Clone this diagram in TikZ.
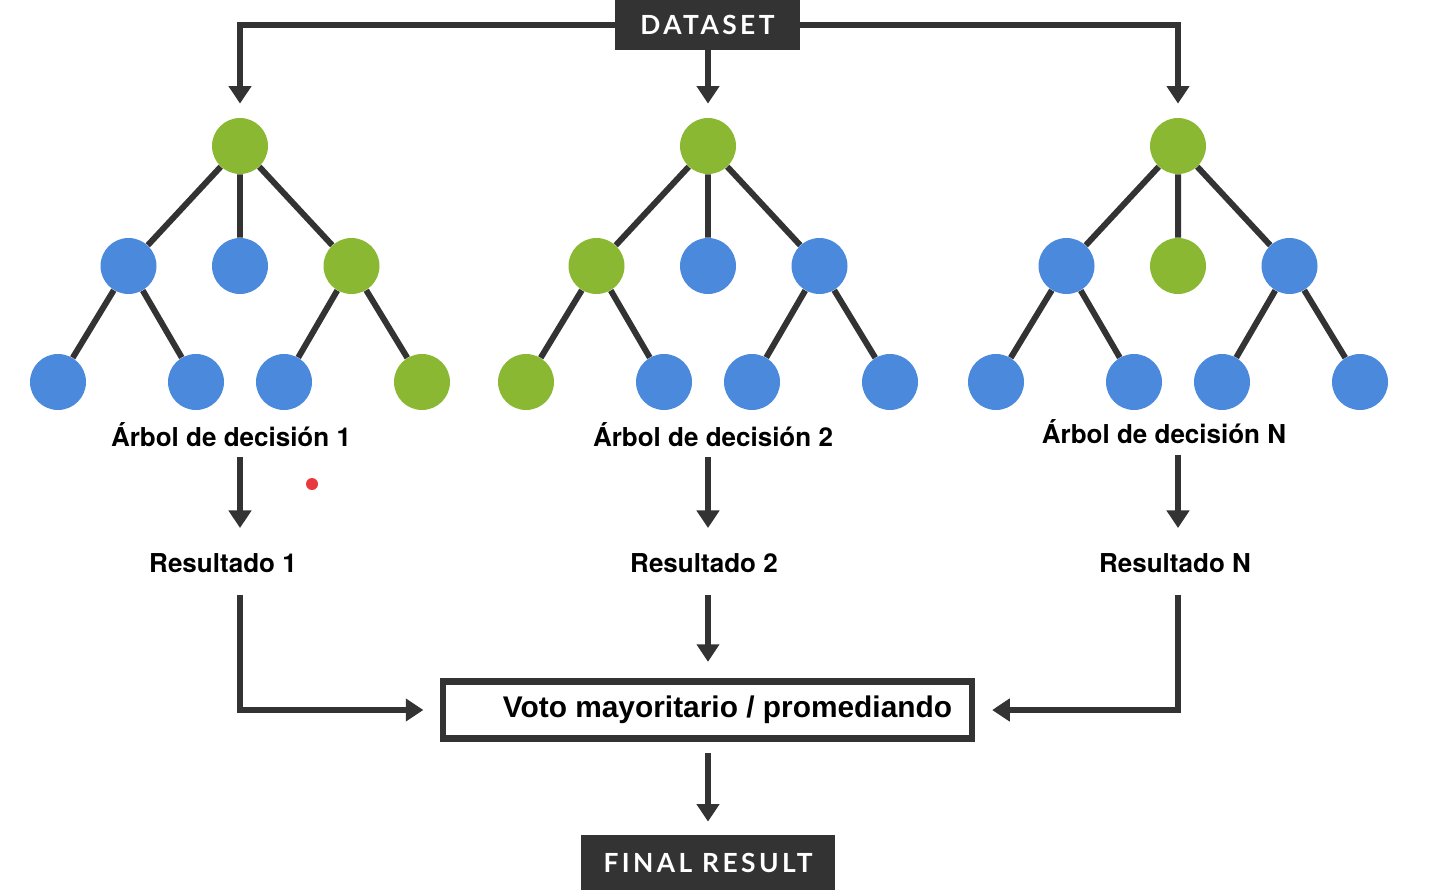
\documentclass[tikz,border=0pt]{standalone}
\usepackage{fontspec}
\setmainfont{TeX Gyre Heros}
\newfontfamily\cajafont[LetterSpace=13]{Lato}
\newfontfamily\votofont{Liberation Sans}
\usepackage{tikz}
\usetikzlibrary{arrows.meta,calc}
\definecolor{verde}{HTML}{8AB833}
\definecolor{azul}{HTML}{4A89DC}
\definecolor{oscuro}{HTML}{333333}
\definecolor{punto}{HTML}{E8393F}

\begin{document}
\begin{tikzpicture}[
  nodo/.style={circle, inner sep=0pt, minimum size=1.12cm},
  rama/.style={oscuro, line width=3.4pt},
  flecha/.style={-{Triangle[length=10pt, width=12.5pt]}, oscuro, line width=3.4pt},
  oscura/.style={fill=oscuro, text=white, inner sep=0pt, font=\cajafont\bfseries\fontsize{15}{18}\selectfont},
  etiq/.style={font=\bfseries\fontsize{14.8}{17}\selectfont, inner sep=0pt, text height=10.6pt, text depth=0pt}]
  \useasboundingbox (0,0) rectangle (28.84,-17.9);
  \node[oscura, minimum width=3.7cm, minimum height=1cm] (ds) at (14.15,-0.5) {DATASET};
  % los tres arboles
  \foreach \t/\x/\cr/\ci/\cm/\cd/\cii/\cid/\cdi/\cdd in
    {1/4.8/verde/azul/azul/verde/azul/azul/azul/verde,
     2/14.16/verde/verde/azul/azul/verde/azul/azul/azul,
     3/23.56/verde/azul/verde/azul/azul/azul/azul/azul}{
    \node[nodo, fill=\cr] (r\t) at (\x,-2.92) {};
    \node[nodo, fill=\ci] (i\t) at (\x-2.23,-5.32) {};
    \node[nodo, fill=\cm] (m\t) at (\x,-5.32) {};
    \node[nodo, fill=\cd] (d\t) at (\x+2.23,-5.32) {};
    \node[nodo, fill=\cii] (ii\t) at (\x-3.64,-7.64) {};
    \node[nodo, fill=\cid] (id\t) at (\x-0.88,-7.64) {};
    \node[nodo, fill=\cdi] (di\t) at (\x+0.88,-7.64) {};
    \node[nodo, fill=\cdd] (dd\t) at (\x+3.64,-7.64) {};
    \draw[rama] (r\t) -- (i\t) (r\t) -- (m\t) (r\t) -- (d\t)
      (i\t) -- (ii\t) (i\t) -- (id\t) (d\t) -- (di\t) (d\t) -- (dd\t);
  }
  \draw[flecha, shorten >=0.28cm] (ds.west) -| (r1);
  \draw[flecha, shorten >=0.28cm] (ds.south -| r2) -- (r2);
  \draw[flecha, shorten >=0.28cm] (ds.east) -| (r3);
  \node[etiq] (arb1) at (4.62,-8.734) {Árbol de decisión 1};
  \node[etiq] (arb2) at (14.26,-8.734) {Árbol de decisión 2};
  \node[etiq] (arb3) at (23.28,-8.69) {Árbol de decisión N};
  \node[etiq] (res1) at (4.46,-11.254) {Resultado 1};
  \node[etiq] (res2) at (14.08,-11.254) {Resultado 2};
  \node[etiq] (res3) at (23.5,-11.254) {Resultado N};
  \foreach \t in {1,2,3}
    \draw[flecha, shorten <=0.22cm, shorten >=0.5cm] (arb\t.south -| r\t) -- (res\t.north -| r\t);
  \node[draw=oscuro, line width=3.6pt, minimum width=10.58cm, minimum height=1.14cm,
    font=\votofont\bfseries\fontsize{17}{20}\selectfont] (voto) at (14.15,-14.2)
    {\hspace*{0.8cm}Voto mayoritario / promediando};
  \draw[flecha, shorten <=0.46cm, shorten >=0.33cm] (res1.south -| r1) |- (voto.west);
  \draw[flecha, shorten <=0.46cm, shorten >=0.33cm] (res2.south -| r2) -- (voto.north -| r2);
  \draw[flecha, shorten <=0.46cm, shorten >=0.34cm] (res3.south -| r3) |- (voto.east);
  \node[oscura, minimum width=5.08cm, minimum height=1.1cm] (fin) at (14.16,-17.25) {FINAL RESULT};
  \draw[flecha, shorten <=0.22cm, shorten >=0.26cm] (voto.south -| r2) -- (fin.north);
  \node[circle, fill=punto, inner sep=0pt, minimum size=0.24cm] (puntero) at (6.24,-9.68) {};
\end{tikzpicture}
\end{document}
